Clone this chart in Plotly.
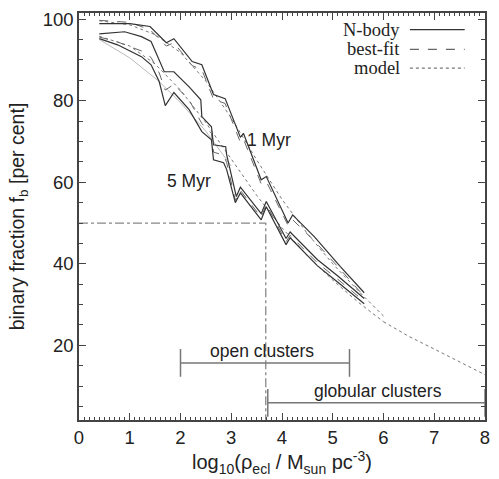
import plotly.graph_objects as go

# ---------------- data ----------------
x_1myr = [0.4, 1.0, 1.4, 1.72, 1.87, 2.23, 2.42, 2.65, 2.88, 3.18, 3.24, 3.59, 3.69, 4.12, 4.21, 4.64, 5.15, 5.62]
nbody_1myr = [98.9, 98.9, 98.2, 94.2, 95.2, 89.6, 88.8, 81.5, 80.5, 71.0, 72.0, 60.6, 61.4, 50.0, 52.0, 46.6, 39.3, 32.9]
bestfit_1myr = [99.7, 99.2, 97.4, 93.4, 94.2, 88.6, 87.6, 80.4, 79.3, 69.8, 70.6, 59.6, 60.2, 49.4, 50.8, 45.6, 38.6, 32.0]

x_5myr_a = [0.4, 0.9, 1.23, 1.42, 1.68, 1.87, 2.17, 2.4, 2.42, 2.61, 2.65, 2.89, 2.91, 3.1, 3.18, 3.59, 3.69, 4.08, 4.16, 4.7, 5.1, 5.62]
nbody_5myr_a = [96.4, 96.9, 95.7, 94.5, 87.1, 87.1, 83.4, 80.2, 76.1, 73.6, 69.2, 68.7, 66.7, 56.5, 58.8, 52.3, 55.3, 46.2, 47.8, 41.0, 37.0, 31.5]

x_5myr_b = [0.4, 0.76, 1.23, 1.42, 1.58, 1.7, 1.87, 2.17, 2.42, 2.61, 2.65, 2.85, 2.91, 3.08, 3.18, 3.59, 3.69, 4.08, 4.16, 4.7, 5.1, 5.62]
nbody_5myr_b = [95.2, 93.7, 90.8, 88.8, 84.7, 78.8, 82.0, 77.8, 72.4, 70.4, 65.5, 64.8, 63.1, 55.0, 57.4, 50.8, 54.0, 44.7, 46.4, 39.5, 35.5, 30.2]
bestfit_5myr = [95.6, 94.4, 92.2, 90.6, 86.8, 82.6, 84.0, 80.2, 74.4, 72.0, 67.4, 66.6, 64.8, 55.6, 58.0, 51.4, 54.6, 45.4, 47.0, 40.2, 36.2, 30.8]

x_model = [0.4, 1.0, 1.5, 2.0, 2.5, 3.0, 3.5, 4.0, 4.5, 5.0, 5.5, 6.0]
model_1myr = [99.6, 98.6, 96.2, 91.8, 84.8, 75.8, 65.5, 55.8, 47.4, 40.0, 33.4, 27.2]
model_5myr = [95.8, 93.4, 89.0, 82.6, 74.6, 65.6, 56.8, 48.8, 42.0, 36.0, 30.6, 25.8]

x_tail = [6.0, 6.5, 7.0, 7.5, 8.0]
model_tail = [25.8, 22.2, 19.1, 15.9, 12.8]

x_light = [0.4, 1.0, 1.58, 2.0, 2.5, 3.0]
light_5myr = [95.0, 90.5, 84.7, 79.5, 72.5, 64.0]

ref_x = [0, 3.68, 3.68]
ref_y = [50, 50, 1.7]

open_x = [2.0, 5.33]
open_y = 15.7
glob_x = [3.72, 8.0]
glob_y = 5.9

SOLID = "#333333"
GREY = "#666666"
DOT = "#777777"

fig = go.Figure()

def line(x, y, color, width, dash="solid"):
    fig.add_trace(go.Scatter(x=x, y=y, mode="lines", showlegend=False,
                             hoverinfo="skip",
                             line=dict(color=color, width=width, dash=dash)))

# reference dash-dot lines
line(ref_x, ref_y, "#888888", 1.3, "dashdot")

# models (dotted) and light line
line(x_light, light_5myr, "#bbbbbb", 1.0)
line(x_model, model_1myr, DOT, 1.0, "dot")
line(x_model, model_5myr, DOT, 1.0, "dot")
line(x_tail, model_tail, DOT, 1.0, "dot")

# best fits (dashed)
line(x_1myr, bestfit_1myr, GREY, 1.0, "dash")
line(x_5myr_b, bestfit_5myr, GREY, 1.0, "dash")

# N-body (solid)
line(x_1myr, nbody_1myr, SOLID, 1.2)
line(x_5myr_a, nbody_5myr_a, SOLID, 1.2)
line(x_5myr_b, nbody_5myr_b, SOLID, 1.2)

# cluster range bars
BAR = "#777777"
line(open_x, [open_y, open_y], BAR, 1.5)
line([open_x[0], open_x[0]], [open_y - 3.4, open_y + 3.4], BAR, 1.5)
line([open_x[1], open_x[1]], [open_y - 3.4, open_y + 3.4], BAR, 1.5)
line(glob_x, [glob_y, glob_y], BAR, 1.5)
line([glob_x[0], glob_x[0]], [glob_y - 3.4, glob_y + 3.4], BAR, 1.5)
line([glob_x[1], glob_x[1]], [glob_y - 3.4, glob_y + 3.4], BAR, 1.5)

sans = "Liberation Sans, Arial, sans-serif"
serif = "Liberation Serif, Times New Roman, serif"

ann = [
    dict(x=3.74, y=70.4, text="1 Myr"),
    dict(x=2.17, y=60.2, text="5 Myr"),
    dict(x=3.6, y=18.6, text="open clusters"),
    dict(x=5.9, y=8.8, text="globular clusters"),
]
for a in ann:
    fig.add_annotation(x=a["x"], y=a["y"], text=a["text"], showarrow=False,
                       font=dict(family=sans, size=17.5, color="#222"))

# legend (text left, sample line right)
leg_names = ["N-body", "best-fit", "model"]
leg_y = [97.4, 92.6, 88.0]
leg_dash = ["solid", "dash", "dot"]
leg_col = [SOLID, GREY, DOT]
for name, yy, d, c in zip(leg_names, leg_y, leg_dash, leg_col):
    fig.add_annotation(x=6.37, y=yy, text=name, showarrow=False, xanchor="right",
                       font=dict(family=serif, size=18.5, color="#222"))
    line([6.52, 7.6], [yy, yy], c, 1.2, d)

axis_common = dict(showline=True, mirror="ticks", linecolor="#444", linewidth=1.5,
                   ticks="inside", tickcolor="#444", ticklen=7, tickwidth=1.2,
                   showgrid=False, zeroline=False,
                   tickfont=dict(family=sans, size=18.5, color="#222"))

fig.update_xaxes(range=[0, 8], tickvals=[0, 1, 2, 3, 4, 5, 6, 7, 8],
                 minor=dict(dtick=0.1, ticklen=3, tickcolor="#444", ticks="inside"),
                 title=dict(text="log<sub>10</sub>(ρ<sub>ecl</sub> / M<sub>sun</sub> pc<sup>-3</sup>)",
                            font=dict(family=sans, size=20, color="#222"), standoff=7),
                 **axis_common)
fig.update_yaxes(range=[1.7, 101.5], tickvals=[20, 40, 60, 80, 100],
                 minor=dict(dtick=5, ticklen=4, tickcolor="#444", ticks="inside", tick0=0),
                 title=dict(text="binary fraction f<sub>b</sub> [per cent]",
                            font=dict(family=sans, size=19.5, color="#222"), standoff=13),
                 **axis_common)

fig.update_layout(width=499, height=479, margin=dict(l=79, r=9, t=13, b=59),
                  plot_bgcolor="white", paper_bgcolor="white")

fig.write_html("out.html")
